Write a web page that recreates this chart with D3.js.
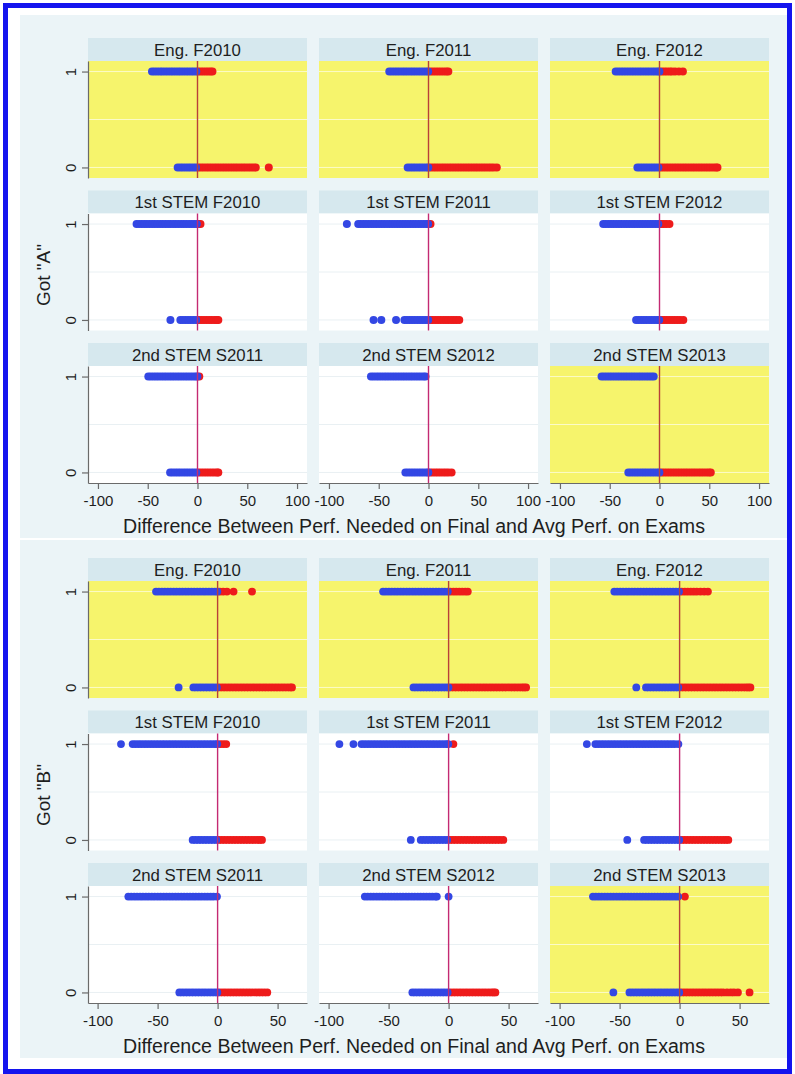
<!DOCTYPE html>
<html>
<head>
<meta charset="utf-8">
<script src="https://cdn.jsdelivr.net/npm/d3@7"></script>
<style>
  html, body { margin: 0; padding: 0; background: #fff; }
  svg { display: block; }
</style>
</head>
<body>
<svg id="chart" width="795" height="1074"></svg>
<script>
// ---- Panel labels and axis setup ----
const panelTitles = [
  "Eng. F2010", "Eng. F2011", "Eng. F2012",
  "1st STEM F2010", "1st STEM F2011", "1st STEM F2012",
  "2nd STEM S2011", "2nd STEM S2012", "2nd STEM S2013"
];
const gradeLabels = ['Got "A"', 'Got "B"'];
const highlightedPanels = [0, 1, 2, 8];
const yTicks = [0, 1];
const yGrid = [0, 0.5, 1];
const xTicksA = [-100, -50, 0, 50, 100];
const xTicksB = [-100, -50, 0, 50];
const xDomainA = [-110, 110];
const xDomainB = [-108, 74.5];
const axisTitle = "Difference Between Perf. Needed on Final and Avg Perf. on Exams";

// ---- Got "A": students who earned the grade (1) ----
const gotA_1 = [
  [-45.7,-43.1,-40.4,-37.6,-35.2,-32.5,-29.8,-27.1,-24.6,-21.9,-19.3,-16.8,-14.2,-11.5,-8.9,-6.3,-3.8,-1.2,0.9,3.4,5.8,8.3,10.7,13.1,15.0],
  [-39.4,-36.8,-34.1,-31.5,-28.9,-26.2,-23.6,-21.0,-18.3,-15.7,-13.1,-10.4,-7.8,-5.2,-2.6,-0.3,2.1,4.7,7.4,10.0,12.6,15.3,17.9,19.9],
  [-44.0,-41.4,-38.7,-36.1,-33.5,-30.8,-28.2,-25.6,-22.9,-20.3,-17.7,-15.0,-12.4,-9.8,-7.1,-4.5,-1.9,-0.1,2.3,4.9,7.5,10.2,12.4,15.6,19.5,23.5],
  [-61.2,-58.6,-55.9,-53.3,-50.7,-48.0,-45.4,-42.8,-40.1,-37.5,-34.9,-32.2,-29.6,-27.0,-24.3,-21.7,-19.1,-16.4,-13.8,-11.2,-8.5,-5.9,-3.3,-0.7,1.2,3.0],
  [-82.0,-70.6,-68.0,-65.3,-62.7,-60.1,-57.4,-54.8,-52.2,-49.5,-46.9,-44.3,-41.6,-39.0,-36.4,-33.7,-31.1,-28.5,-25.8,-23.2,-20.6,-17.9,-15.3,-12.7,-10.0,-7.4,-4.8,-2.1,-0.4,2.0],
  [-56.5,-53.9,-51.2,-48.6,-46.0,-43.3,-40.7,-38.1,-35.4,-32.8,-30.2,-27.5,-24.9,-22.3,-19.6,-17.0,-14.4,-11.7,-9.1,-6.5,-3.8,-1.2,1.5,4.1,6.8,10.0],
  [-49.4,-46.8,-44.1,-41.5,-38.9,-36.2,-33.6,-31.0,-28.3,-25.7,-23.1,-20.4,-17.8,-15.2,-12.5,-9.9,-7.3,-4.6,-2.0,-0.2,1.8],
  [-57.8,-55.2,-52.5,-49.9,-47.3,-44.6,-42.0,-39.4,-36.7,-34.1,-31.5,-28.8,-26.2,-23.6,-20.9,-18.3,-15.7,-13.0,-10.4,-7.8,-5.1,-3.0],
  [-58.2,-55.6,-52.9,-50.3,-47.7,-45.0,-42.4,-39.8,-37.1,-34.5,-31.9,-29.2,-26.6,-24.0,-21.3,-18.7,-16.1,-13.4,-10.8,-8.2,-5.8]
];
// ---- Got "A": students who did not (0) ----
const gotA_0 = [
  [-19.9,-17.2,-14.6,-11.9,-9.3,-6.8,-4.1,-1.5,1.0,3.6,6.2,8.9,11.5,14.1,16.8,19.4,22.0,24.7,27.3,29.9,32.6,35.2,37.8,40.4,43.1,45.7,48.3,51.0,53.6,56.2,58.5,71.6],
  [-20.9,-18.2,-15.6,-13.0,-10.3,-7.7,-5.1,-2.4,-0.2,2.2,4.9,7.5,10.1,12.8,15.4,18.0,20.7,23.3,25.9,28.6,31.2,33.8,36.5,39.1,41.7,44.4,47.0,49.6,52.3,54.9,57.5,60.2,62.8,65.4,68.6],
  [-22.2,-19.6,-16.9,-14.3,-11.7,-9.0,-6.4,-3.8,-1.1,1.4,4.0,6.7,9.3,11.9,14.6,17.2,19.8,22.5,25.1,27.7,30.4,33.0,35.6,38.3,40.9,43.5,46.2,48.8,51.4,54.1,56.7,58.2],
  [-27.2,-17.2,-14.6,-11.9,-9.3,-6.7,-4.0,-1.4,1.3,3.9,6.5,9.2,11.8,14.4,17.1,19.4,20.9],
  [-55.2,-47.4,-32.6,-24.2,-21.6,-18.9,-16.3,-13.7,-11.0,-8.4,-5.8,-3.1,-0.3,1.8,4.4,7.1,9.7,12.3,15.0,17.6,20.2,22.9,25.5,28.1,30.9],
  [-23.5,-20.9,-18.2,-15.6,-13.0,-10.3,-7.7,-5.1,-2.4,-0.3,2.1,4.8,7.4,10.0,12.7,15.3,17.9,20.6,23.9],
  [-27.5,-24.9,-22.2,-19.6,-17.0,-14.3,-11.7,-9.1,-6.4,-3.8,-1.2,1.1,3.7,6.4,9.0,11.6,14.3,16.9,19.5,20.9],
  [-23.2,-20.6,-17.9,-15.3,-12.7,-10.0,-7.4,-4.8,-2.1,-0.2,1.6,4.2,6.9,9.5,12.1,14.8,17.4,20.0,23.2],
  [-31.3,-28.7,-26.0,-23.4,-20.8,-18.1,-15.5,-12.9,-10.2,-7.6,-5.0,-2.3,-0.1,2.2,4.8,7.5,10.1,12.7,15.4,18.0,20.6,23.3,25.9,28.5,31.2,33.8,36.4,39.1,41.7,44.3,47.0,49.6,51.5]
];

// ---- Got "B": students who earned the grade (1) ----
const gotB_1 = [
  [-51.3,-48.9,-46.4,-44.0,-41.5,-39.1,-36.6,-34.2,-31.7,-29.3,-26.8,-24.4,-21.9,-19.5,-17.0,-14.6,-12.1,-9.7,-7.2,-4.8,-2.3,-0.2,1.9,4.6,7.8,13.3,28.7],
  [-54.6,-52.2,-49.7,-47.3,-44.8,-42.4,-39.9,-37.5,-35.0,-32.6,-30.1,-27.7,-25.2,-22.8,-20.3,-17.9,-15.4,-13.0,-10.5,-8.1,-5.6,-3.2,-0.7,1.5,4.0,6.4,8.9,11.3,13.8,16.0],
  [-54.4,-52.0,-49.5,-47.1,-44.6,-42.2,-39.7,-37.3,-34.8,-32.4,-29.9,-27.5,-25.0,-22.6,-20.1,-17.7,-15.2,-12.8,-10.3,-7.9,-5.4,-3.0,-0.5,1.8,4.3,6.8,9.3,11.8,14.3,17.4,20.5,23.6],
  [-80.5,-70.8,-68.4,-65.9,-63.5,-61.0,-58.6,-56.1,-53.7,-51.2,-48.8,-46.3,-43.9,-41.4,-39.0,-36.5,-34.1,-31.6,-29.2,-26.7,-24.3,-21.8,-19.4,-16.9,-14.5,-12.0,-9.6,-7.1,-4.7,-2.2,-0.3,2.2,4.7,7.2],
  [-91.0,-79.3,-72.6,-70.2,-67.7,-65.3,-62.8,-60.4,-57.9,-55.5,-53.0,-50.6,-48.1,-45.7,-43.2,-40.8,-38.3,-35.9,-33.4,-31.0,-28.5,-26.1,-23.6,-21.2,-18.7,-16.3,-13.8,-11.4,-8.9,-6.5,-4.0,-1.6,-0.2,4.0],
  [-77.3,-70.2,-67.8,-65.3,-62.9,-60.4,-58.0,-55.5,-53.1,-50.6,-48.2,-45.7,-43.3,-40.8,-38.4,-35.9,-33.5,-31.0,-28.6,-26.1,-23.7,-21.2,-18.8,-16.3,-13.9,-11.4,-9.0,-6.5,-4.1,-1.0],
  [-74.4,-72.0,-69.5,-67.1,-64.6,-62.2,-59.7,-57.3,-54.8,-52.4,-49.9,-47.5,-45.0,-42.6,-40.1,-37.7,-35.2,-32.8,-30.3,-27.9,-25.4,-23.0,-20.5,-18.1,-15.6,-13.2,-10.7,-8.3,-5.8,-3.4,-0.5],
  [-69.8,-67.4,-64.9,-62.5,-60.0,-57.6,-55.1,-52.7,-50.2,-47.8,-45.3,-42.9,-40.4,-38.0,-35.5,-33.1,-30.6,-28.2,-25.7,-23.3,-20.8,-18.4,-15.9,-13.5,-11.0,-9.8,0],
  [-72.2,-69.8,-67.3,-64.9,-62.4,-60.0,-57.5,-55.1,-52.6,-50.2,-47.7,-45.3,-42.8,-40.4,-37.9,-35.5,-33.0,-30.6,-28.1,-25.7,-23.2,-20.8,-18.3,-15.9,-13.4,-11.0,-8.5,-6.1,-3.6,-1.2,4.4]
];
// ---- Got "B": students who did not (0) ----
const gotB_0 = [
  [-32.5,-20.2,-17.8,-15.3,-12.9,-10.4,-8.0,-5.5,-3.1,-0.6,1.7,4.2,6.6,9.1,11.5,14.0,16.4,18.9,21.3,23.8,26.2,28.7,31.1,33.6,36.0,38.5,40.9,43.4,45.8,48.3,50.7,53.2,55.6,58.1,60.5,62.0],
  [-29.3,-26.9,-24.4,-22.0,-19.5,-17.1,-14.6,-12.2,-9.7,-7.3,-4.8,-2.4,-0.1,2.1,4.6,7.0,9.5,11.9,14.4,16.8,19.3,21.7,24.2,26.6,29.1,31.5,34.0,36.4,38.9,41.3,43.8,46.2,48.7,51.1,53.6,56.0,58.5,60.9,62.8,64.6],
  [-36.1,-28.0,-25.6,-23.1,-20.7,-18.2,-15.8,-13.3,-10.9,-8.4,-6.0,-3.5,-1.1,1.3,3.8,6.2,8.7,11.1,13.6,16.0,18.5,20.9,23.4,25.8,28.3,30.7,33.2,35.6,38.1,40.5,43.0,45.4,47.9,50.3,52.8,55.2,57.2,59.0],
  [-20.8,-18.4,-15.9,-13.5,-11.0,-8.6,-6.1,-3.7,-1.2,1.0,3.5,5.9,8.4,10.8,13.3,15.7,18.2,20.6,23.1,25.5,28.0,30.4,32.9,35.0,37.0],
  [-31.5,-23.2,-20.8,-18.3,-15.9,-13.4,-11.0,-8.5,-6.1,-3.6,-1.2,1.1,3.6,6.0,8.5,10.9,13.4,15.8,18.3,20.7,23.2,25.6,28.1,30.5,33.0,35.4,37.9,40.3,42.8,45.6],
  [-43.6,-29.6,-27.2,-24.7,-22.3,-19.8,-17.4,-14.9,-12.5,-10.0,-7.6,-5.1,-2.7,-0.3,1.9,4.4,6.8,9.3,11.7,14.2,16.6,19.1,21.5,24.0,26.4,28.9,31.3,33.8,36.2,38.5,40.6],
  [-31.9,-29.5,-27.0,-24.6,-22.1,-19.7,-17.2,-14.8,-12.3,-9.9,-7.4,-5.0,-2.5,-0.2,2.0,4.5,6.9,9.4,11.8,14.3,16.7,19.2,21.6,24.1,26.5,29.0,31.4,33.9,36.3,38.8,41.4],
  [-30.2,-27.8,-25.3,-22.9,-20.4,-18.0,-15.5,-13.1,-10.6,-8.2,-5.7,-3.3,-0.8,1.4,3.9,6.3,8.8,11.2,13.7,16.1,18.6,21.0,23.5,25.9,28.4,30.8,33.3,35.7,37.5,39.0],
  [-55.2,-41.8,-39.4,-36.9,-34.5,-32.0,-29.6,-27.1,-24.7,-22.2,-19.8,-17.3,-14.9,-12.4,-10.0,-7.5,-5.1,-2.6,-0.3,1.9,4.4,6.8,9.3,11.7,14.2,16.6,19.1,21.5,24.0,26.4,28.9,31.3,33.8,36.2,39.5,42.6,45.3,48.6,58.3]
];

// ---- Layout ----
const W = 795, H = 1074;
const FONT = "'Liberation Sans', Arial, Helvetica, sans-serif";
const colLeft = [88, 319, 550];
const panelW = 219;
const figOffset = [0, 520];
const firstStripTop = 38;
const rowPitch = 152.5;
const stripH = 23;
const panelSpan = 140;          // strip top to plot bottom
const dotR = [4, 3.9];

const COLORS = {
  frame: "#1414ee",
  figBg: "#ebf4f7",
  strip: "#d6e8ee",
  yellow: "#f6f46c",
  white: "#ffffff",
  blue: "#3347e4",
  red: "#ee1b1b",
  zeroOnWhite: "#c42a72",
  zeroOnYellow: "#b8403a",
  axis: "#6a6a6a",
  text: "#1e1e1e"
};

const figures = [
  { label: gradeLabels[0], ticks: xTicksA, domain: xDomainA, got1: gotA_1, got0: gotA_0 },
  { label: gradeLabels[1], ticks: xTicksB, domain: xDomainB, got1: gotB_1, got0: gotB_0 }
];

const svg = d3.select("#chart");

svg.append("rect").attr("width", W).attr("height", H).attr("fill", "#fff");

// light figure backgrounds
svg.append("rect").attr("x", 20).attr("y", 15).attr("width", 768).attr("height", 523).attr("fill", COLORS.figBg);
svg.append("rect").attr("x", 20).attr("y", 540).attr("width", 768).attr("height", 518).attr("fill", COLORS.figBg);

figures.forEach((fig, f) => {
  const oy = figOffset[f];
  const g = svg.append("g");

  panelTitles.forEach((title, i) => {
    const r = Math.floor(i / 3), c = i % 3;
    const x0 = colLeft[c];
    const stripTop = firstStripTop + oy + r * rowPitch;
    const plotTop = stripTop + stripH;
    const plotBottom = stripTop + panelSpan;
    const yellow = highlightedPanels.includes(i);

    const x = d3.scaleLinear().domain(fig.domain).range([x0, x0 + panelW]);
    const y = d3.scaleLinear().domain([-0.11, 1.11]).range([plotBottom, plotTop]);

    const p = g.append("g");

    // strip header
    p.append("rect").attr("x", x0).attr("y", stripTop).attr("width", panelW).attr("height", stripH)
      .attr("fill", COLORS.strip);
    p.append("text").attr("x", x0 + panelW / 2).attr("y", stripTop + 17.5)
      .attr("text-anchor", "middle").attr("font-family", FONT).attr("font-size", 16.8)
      .attr("fill", COLORS.text).text(title);

    // plot region
    p.append("rect").attr("x", x0).attr("y", plotTop).attr("width", panelW).attr("height", plotBottom - plotTop)
      .attr("fill", yellow ? COLORS.yellow : COLORS.white);

    // gridlines
    p.selectAll("line.grid").data(yGrid).join("line").attr("class", "grid")
      .attr("x1", x0).attr("x2", x0 + panelW)
      .attr("y1", d => y(d)).attr("y2", d => y(d))
      .attr("stroke", yellow ? "#fbfbc8" : "#e9f0f3").attr("stroke-width", 1);

    // points: red (>0) underneath, blue (<=0) on top
    const pts = [];
    fig.got1[i].forEach(v => pts.push({ v, g: 1 }));
    fig.got0[i].forEach(v => pts.push({ v, g: 0 }));
    const reds = pts.filter(d => d.v > 0), blues = pts.filter(d => d.v <= 0);
    p.selectAll("circle.red").data(reds).join("circle").attr("class", "red")
      .attr("cx", d => x(d.v)).attr("cy", d => y(d.g)).attr("r", dotR[f]).attr("fill", COLORS.red);
    p.selectAll("circle.blue").data(blues).join("circle").attr("class", "blue")
      .attr("cx", d => x(d.v)).attr("cy", d => y(d.g)).attr("r", dotR[f]).attr("fill", COLORS.blue);

    // reference line at zero
    p.append("line").attr("x1", x(0)).attr("x2", x(0)).attr("y1", plotTop).attr("y2", plotBottom)
      .attr("stroke", yellow ? COLORS.zeroOnYellow : COLORS.zeroOnWhite).attr("stroke-width", 1.4);

    // y axis on the first column
    if (c === 0) {
      const ya = p.append("g").attr("transform", `translate(${x0},0)`)
        .call(d3.axisLeft(y).tickValues(yTicks).tickSize(6).tickSizeOuter(0).tickFormat(d3.format("d")));
      ya.select(".domain").attr("stroke", COLORS.axis).attr("stroke-width", 1.2);
      ya.selectAll(".tick line").attr("stroke", COLORS.axis).attr("stroke-width", 1.2);
      ya.selectAll(".tick text")
        .attr("x", null).attr("dy", null)
        .attr("transform", "translate(-12.5,0) rotate(-90)")
        .attr("text-anchor", "middle")
        .attr("font-family", FONT).attr("font-size", 15).attr("fill", COLORS.text);
    }

    // x axis on the last row
    if (r === 2) {
      const xa = p.append("g").attr("transform", `translate(0,${plotBottom})`)
        .call(d3.axisBottom(x).tickValues(fig.ticks).tickSize(6).tickSizeOuter(0).tickFormat(d3.format("d")));
      xa.select(".domain").attr("stroke", COLORS.axis).attr("stroke-width", 1.2);
      xa.selectAll(".tick line").attr("stroke", COLORS.axis).attr("stroke-width", 1.2);
      xa.selectAll(".tick text")
        .attr("y", 22.5).attr("dy", null)
        .attr("font-family", FONT).attr("font-size", 15).attr("fill", COLORS.text)
        .text(d => d < 0 ? "-" + Math.abs(d) : String(d));
    }
  });

  // x axis title
  const axisBase = firstStripTop + oy + 2 * rowPitch + panelSpan;
  g.append("text").attr("x", 414).attr("y", axisBase + 49.5)
    .attr("text-anchor", "middle").attr("font-family", FONT).attr("font-size", 19.6)
    .attr("fill", COLORS.text).text(axisTitle);

  // y axis title
  const midY = (firstStripTop + oy + stripH + axisBase) / 2 + 3;
  g.append("text").attr("transform", `translate(50,${midY}) rotate(-90)`)
    .attr("text-anchor", "middle").attr("font-family", FONT).attr("font-size", 19)
    .attr("fill", COLORS.text).text(fig.label);
});

// outer frame
svg.append("rect").attr("x", 5.5).attr("y", 5.5).attr("width", 784).attr("height", 1066)
  .attr("fill", "none").attr("stroke", COLORS.frame).attr("stroke-width", 5);
</script>
</body>
</html>
